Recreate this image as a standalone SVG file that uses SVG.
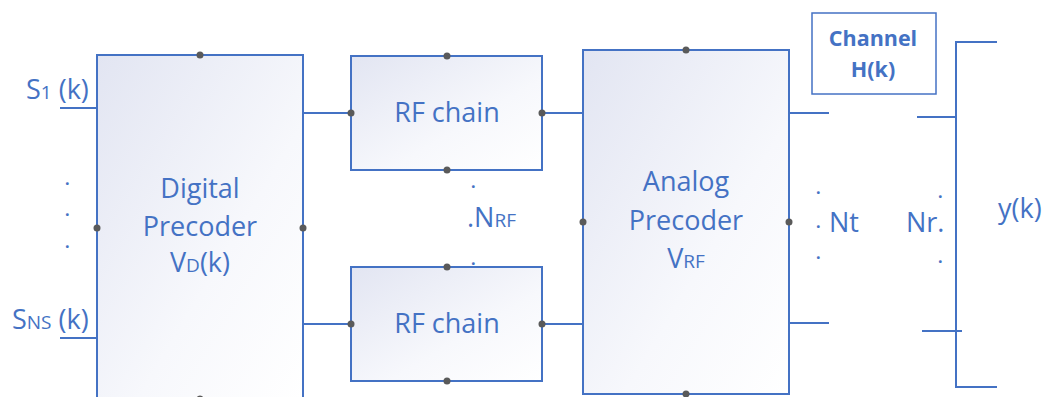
<svg xmlns="http://www.w3.org/2000/svg" width="1047" height="397" viewBox="0 0 1047 397">
<defs>
<linearGradient id="g" x1="0" y1="0" x2="1" y2="1">
<stop offset="0" stop-color="#e2e5f2"/><stop offset="0.6" stop-color="#f7f8fc"/><stop offset="1" stop-color="#ffffff"/>
</linearGradient>
<style>
.box{fill:url(#g);stroke:#4472c4;stroke-width:2}
.plain{fill:#ffffff;stroke:#4472c4;stroke-width:1.5}
.ln{stroke:#4472c4;stroke-width:2;fill:none}
.pt{fill:#5a5a5a}
.t{font-family:"Open Sans","Noto Sans",sans-serif;font-size:27px;fill:#4472c4}
.d{font-family:"Open Sans","Noto Sans",sans-serif;font-size:16px;font-weight:bold;fill:#4472c4}
.c{text-anchor:middle}
.sub{font-size:19px}
.b{font-weight:bold;font-size:21.5px}
</style>
</defs>
<rect width="1047" height="397" fill="#ffffff"/>
<g id="connectors">
<line class="ln" x1="60" y1="108" x2="97" y2="108"/>
<line class="ln" x1="60" y1="338" x2="97" y2="338"/>
<line class="ln" x1="303" y1="113" x2="351" y2="113"/>
<line class="ln" x1="303" y1="324" x2="351" y2="324"/>
<line class="ln" x1="542" y1="113" x2="583" y2="113"/>
<line class="ln" x1="542" y1="324" x2="583" y2="324"/>
<line class="ln" x1="789" y1="113" x2="829" y2="113"/>
<line class="ln" x1="789" y1="323" x2="829" y2="323"/>
</g>
<g id="inputs">
<text class="t" x="26" y="99">S<tspan class="sub">1</tspan> (k)</text>
<text class="t" x="12" y="329">S<tspan class="sub">NS</tspan> (k)</text>
<text class="d" x="65" y="185">.</text>
<text class="d" x="65" y="216">.</text>
<text class="d" x="65" y="248">.</text>
</g>
<g id="digital-precoder">
<rect class="box" x="97" y="55" width="206" height="344"/>
<text class="t c" x="200" y="198">Digital</text>
<text class="t c" x="200" y="236">Precoder</text>
<text class="t c" x="200" y="272">V<tspan class="sub">D</tspan>(k)</text>
<circle class="pt" cx="200" cy="55" r="3.5"/>
<circle class="pt" cx="97" cy="228" r="3.5"/>
<circle class="pt" cx="303" cy="228" r="3.5"/>
<circle class="pt" cx="200" cy="399" r="3.5"/>
</g>
<g id="rf-chain-1">
<rect class="box" x="351" y="56" width="191" height="114"/>
<text class="t c" x="447" y="122">RF chain</text>
<circle class="pt" cx="447" cy="56" r="3.5"/>
<circle class="pt" cx="447" cy="170" r="3.5"/>
<circle class="pt" cx="351" cy="113" r="3.5"/>
<circle class="pt" cx="542" cy="113" r="3.5"/>
</g>
<g id="nrf-label">
<text class="d" x="471" y="188">.</text>
<text class="t" x="467" y="227">.N<tspan class="sub">RF</tspan></text>
<text class="d" x="471" y="265">.</text>
</g>
<g id="rf-chain-2">
<rect class="box" x="351" y="267" width="191" height="114"/>
<text class="t c" x="447" y="333">RF chain</text>
<circle class="pt" cx="447" cy="267" r="3.5"/>
<circle class="pt" cx="447" cy="381" r="3.5"/>
<circle class="pt" cx="351" cy="324" r="3.5"/>
<circle class="pt" cx="542" cy="324" r="3.5"/>
</g>
<g id="analog-precoder">
<rect class="box" x="583" y="50" width="206" height="344"/>
<text class="t c" x="686" y="191">Analog</text>
<text class="t c" x="686" y="230">Precoder</text>
<text class="t c" x="686" y="268">V<tspan class="sub">RF</tspan></text>
<circle class="pt" cx="686" cy="50" r="3.5"/>
<circle class="pt" cx="686" cy="394" r="3.5"/>
<circle class="pt" cx="583" cy="222" r="3.5"/>
<circle class="pt" cx="789" cy="222" r="3.5"/>
</g>
<g id="nt-label">
<text class="d" x="816" y="194">.</text>
<text class="d" x="816" y="228">.</text>
<text class="d" x="816" y="259">.</text>
<text class="t" x="829" y="232">Nt</text>
</g>
<g id="channel">
<rect class="plain" x="812" y="13" width="124" height="81"/>
<text class="t c b" x="873" y="46">Channel</text>
<text class="t c b" x="873" y="77">H(k)</text>
</g>
<g id="receiver">
<path class="ln" d="M997 42 H956 V387 H997"/>
<line class="ln" x1="917" y1="117" x2="956" y2="117"/>
<line class="ln" x1="922" y1="331" x2="962" y2="331"/>
<text class="d" x="938" y="198">.</text>
<text class="t" x="906" y="232">Nr.</text>
<text class="d" x="938" y="263">.</text>
<text class="t" x="998" y="218">y(k)</text>
</g>
</svg>
